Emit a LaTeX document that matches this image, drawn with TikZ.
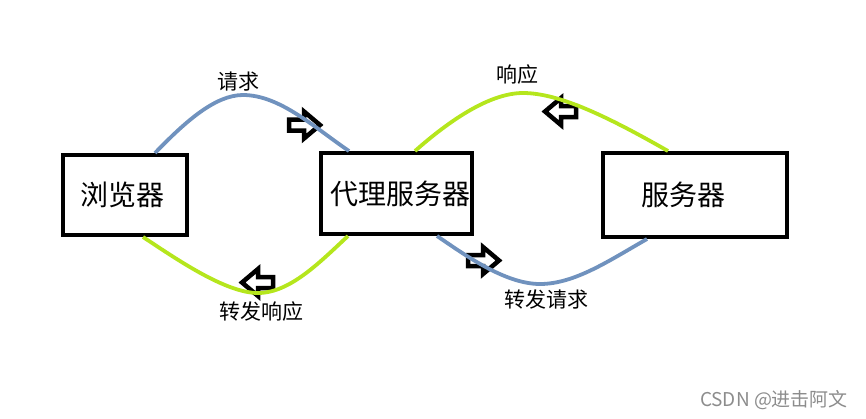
\documentclass[tikz,border=0pt]{standalone}
\usepackage{fontspec}
\setmainfont{Noto Sans CJK SC}
\definecolor{pblue}{RGB}{112,146,190}
\definecolor{pgreen}{RGB}{181,230,29}
\tikzset{
  box/.style={draw=black, line width=4pt, rectangle, inner sep=0pt},
  boxtext/.style={font=\fontsize{28}{32}\selectfont, inner sep=0pt},
  lbl/.style={font=\fontsize{21}{24}\selectfont, inner sep=0pt},
  bluecurve/.style={draw=pblue, line width=3.8pt},
  greencurve/.style={draw=pgreen, line width=3.8pt},
  arrowline/.style={draw=black, line width=4.5pt, miter limit=10},
  hollow/.pic={\path[arrowline] (-15,-5.5) -- (0,-5.5) -- (0,-13.5) -- (16,0) -- (0,13.5) -- (0,5.5) -- (-15,5.5) -- cycle;}
}
\begin{document}
\begin{tikzpicture}[x=1pt,y=-1pt]
\useasboundingbox (0,0) rectangle (866,418);
% boxes
\node[box, minimum width=124pt, minimum height=80pt] (b) at (125,195) {};
\node[box, minimum width=151pt, minimum height=81pt] (p) at (396.5,193.5) {};
\node[box, minimum width=184pt, minimum height=84pt] (s) at (695,195) {};
\node[boxtext] (bt) at ([xshift=-3pt]b.center) {浏览器};
\node[boxtext] (pt) at ([xshift=4pt]p.center) {代理服务器};
\node[boxtext] (st) at ([xshift=-12pt]s.center) {服务器};
% hollow arrows
\pic at (304,125) {hollow};
\pic[rotate=180] at (561,111.5) {hollow};
\pic[rotate=180] at (258,282.5) {hollow};
\pic at (483,260.5) {hollow};
% curves
\draw[bluecurve] ([xshift=30pt]b.north) .. controls (185,122) and (215,95) .. (243,95)
  .. controls (280,95) and (315,128) .. ([xshift=-47.5pt]p.north);
\draw[greencurve] ([xshift=18.5pt]p.north) .. controls (450,120) and (490,93) .. (523,93)
  .. controls (560,93) and (610,118) .. ([xshift=-27pt]s.north);
\draw[greencurve] ([xshift=18pt]b.south) .. controls (175,258) and (225,293) .. (258,293)
  .. controls (290,293) and (320,262) .. ([xshift=-48.5pt]p.south);
\draw[bluecurve] ([xshift=40.5pt]p.south) .. controls (465,255) and (505,284) .. (540,284)
  .. controls (575,284) and (610,260) .. ([xshift=-48pt]s.south);
% labels
\node[lbl] (l1) at (238,82) {请求};
\node[lbl] (l2) at (517,75) {响应};
\node[lbl] (l3) at (261,312) {转发响应};
\node[lbl] (l4) at (546,300) {转发请求};
\node[font=\fontsize{19}{22}\selectfont, text=black!45, inner sep=0pt] (wm) at (774,400) {CSDN @进击阿文};
\end{tikzpicture}
\end{document}
